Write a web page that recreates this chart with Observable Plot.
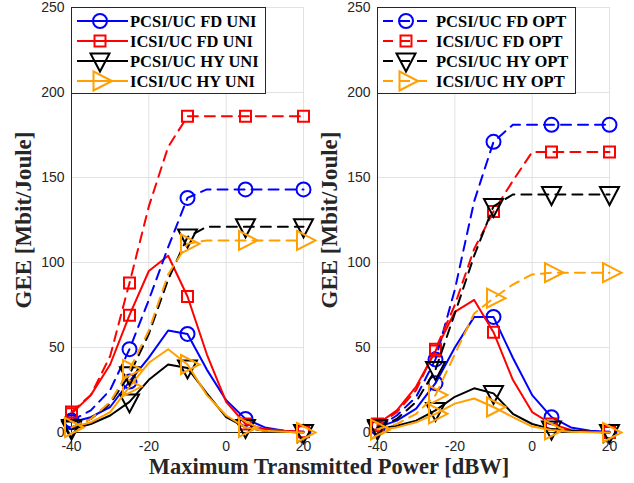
<!DOCTYPE html>
<html><head><meta charset="utf-8">
<script src="https://cdn.jsdelivr.net/npm/d3@7"></script>
<script src="https://cdn.jsdelivr.net/npm/@observablehq/plot@0.6"></script>
<style>
body{margin:0;background:#fff;}
#wrap{position:relative;width:634px;height:483px;overflow:hidden;}
#left{position:absolute;left:0;top:0;}
#right{position:absolute;left:317px;top:0;}
#xlabel{position:absolute;left:0;width:658px;text-align:center;top:458.5px;height:16px;line-height:16px;font-size:22.5px;font-weight:bold;font-family:"Liberation Serif",serif;color:#262626;white-space:nowrap;}
</style></head>
<body><div id="wrap"><div id="left"></div><div id="right"></div><div id="xlabel">Maximum Transmitted Power [dBW]</div></div>
<script>
// ---- data ----
const xValues = [-40, -35, -30, -25, -20, -15, -10, -5, 0, 5, 10, 15, 20];
const markerX = [-40, -25, -10, 5, 20];
const xTicks = [-40, -20, 0, 20];
const yTicks = [0, 50, 100, 150, 200, 250];
const yLabel = "GEE [Mbit/Joule]";

const leftNames = ["PCSI/UC FD UNI", "ICSI/UC FD UNI", "PCSI/UC HY UNI", "ICSI/UC HY UNI"];
const rightNames = ["PCSI/UC FD OPT", "ICSI/UC FD OPT", "PCSI/UC HY OPT", "ICSI/UC HY OPT"];

// left panel, solid lines
const leftPcsiFdSolid = [6, 9, 15, 30, 44, 60, 58, 37, 19, 8, 3, 1, 0.5];
const leftIcsiFdSolid = [11, 22, 40, 69, 95, 104, 80, 46, 18, 5, 2, 1, 0.5];
const leftPcsiHySolid = [2, 5, 10, 18, 31, 40, 38, 23, 9, 3, 1, 0.5, 0];
const leftIcsiHySolid = [3, 6, 12, 27, 41, 49, 40, 22, 10, 3, 1, 0.5, 0];
// left panel, dashed lines
const leftPcsiFdDashed = [7, 13, 25, 49, 78, 109, 138, 143, 143, 143, 143, 143, 143];
const leftIcsiFdDashed = [12, 22, 45, 88, 133, 168, 186, 186, 186, 186, 186, 186, 186];
const leftPcsiHyDashed = [3, 8, 17, 34, 58, 90, 115, 121, 121, 121, 121, 121, 121];
const leftIcsiHyDashed = [3, 8, 18, 37, 60, 93, 111, 113, 113, 113, 113, 113, 113];
// right panel, solid lines
const rightPcsiFdSolid = [3, 7, 14, 29, 50, 68, 68, 44, 22, 9, 3, 1, 0.5];
const rightIcsiFdSolid = [5, 13, 27, 48, 71, 78, 59, 31, 12, 5, 1.5, 0.5, 0];
const rightPcsiHySolid = [2, 4, 7, 13, 21, 26, 23, 11, 5, 2, 1, 0.5, 0];
const rightIcsiHySolid = [1.5, 3, 6, 11, 17, 20, 15, 9, 3.5, 1.5, 0.5, 0.2, 0];
// right panel, dashed lines
const rightPcsiFdDashed = [3, 10, 21, 43, 84, 136, 171, 181, 181, 181, 181, 181, 181];
const rightIcsiFdDashed = [4, 12, 25, 49, 75, 108, 130, 148, 165, 165, 165, 165, 165];
const rightPcsiHyDashed = [3, 8, 18, 37, 70, 104, 133, 140, 140, 140, 140, 140, 140];
const rightIcsiHyDashed = [2, 5, 11, 22, 46, 70, 79, 87, 93, 94, 94, 94, 94];

// ---- styles ----
const colors = ["#0000ff", "#ff0000", "#000000", "#ffa000"];
const sym = {
  circle: {draw(c){ c.moveTo(7, 0); c.arc(0, 0, 7, 0, 2 * Math.PI); c.closePath(); }},
  square: {draw(c){ c.rect(-5.5, -5.5, 11, 11); }},
  down:   {draw(c){ c.moveTo(-9.5, -7.5); c.lineTo(9.5, -7.5); c.lineTo(0, 10.5); c.closePath(); }},
  right:  {draw(c){ c.moveTo(-6.5, -9.5); c.lineTo(12, 0); c.lineTo(-6.5, 9.5); c.closePath(); }}
};
const symbols = [sym.circle, sym.square, sym.down, sym.right];
const DASH = "10,7";

function rows(values) {
  return xValues.map((x, i) => ({x, y: values[i]}));
}

function panel(el, solid, dashed, names, legendDashed, marginLeft, marginRight) {
  const marks = [
    Plot.gridX(xTicks, {stroke: "#e2e2e2", strokeOpacity: 1}),
    Plot.gridY(yTicks, {stroke: "#e2e2e2", strokeOpacity: 1}),
    Plot.ruleX([-40], {stroke: "#262626", strokeWidth: 1}),
    Plot.ruleY([0], {stroke: "#262626", strokeWidth: 1}),
    Plot.axisX(xTicks, {tickSize: 0, tickPadding: 9, tickFormat: d => String(d), label: null, fill: "#262626"}),
    Plot.axisY(yTicks, {tickSize: 0, tickPadding: 7, tickFormat: d => String(d), label: null, fill: "#262626"}),
    Plot.text([yLabel], {text: d => d, frameAnchor: "left", rotate: -90, dx: -48, textAnchor: "middle",
      fontFamily: "Liberation Serif", fontWeight: "bold", fontSize: 23, fill: "#262626"})
  ];
  const addSeries = (vals, k, dash) => {
    const data = rows(vals);
    marks.push(Plot.line(data, {x: "x", y: "y", stroke: colors[k], strokeWidth: 2, strokeDasharray: dash, strokeLinejoin: "round"}));
    marks.push(Plot.dot(data.filter(d => markerX.includes(d.x)), {x: "x", y: "y", symbol: symbols[k], r: 7, stroke: colors[k], strokeWidth: 2, fill: "none"}));
  };
  solid.forEach((v, k) => addSeries(v, k, null));
  dashed.forEach((v, k) => addSeries(v, k, DASH));

  const svg = Plot.plot({
    width: 317, height: 455,
    marginLeft, marginRight, marginTop: 7, marginBottom: 23,
    x: {domain: [-40, 20]},
    y: {domain: [0, 250]},
    style: {fontFamily: "Liberation Sans, Arial, sans-serif", fontSize: "14px", color: "#262626", background: "white", overflow: "visible"},
    marks
  });
  el.appendChild(svg);

  // legend box
  const g = d3.select(svg).append("g").attr("text-anchor", "start");
  const bx = marginLeft + 0.5, by = 7.5;
  const bw = legendDashed ? 198 : 194;
  g.append("rect").attr("x", bx).attr("y", by).attr("width", bw).attr("height", 86)
    .attr("fill", "white").attr("stroke", "#262626").attr("stroke-width", 1);
  names.forEach((name, k) => {
    const cy = 21 + 20 * k;
    g.append("line").attr("x1", marginLeft + 6).attr("x2", marginLeft + 57).attr("y1", cy).attr("y2", cy)
      .attr("stroke", colors[k]).attr("stroke-width", 2).attr("stroke-dasharray", legendDashed ? DASH : null);
    g.append("path").attr("d", d3.symbol().type(symbols[k])()).attr("transform", `translate(${marginLeft + 29},${cy})`)
      .attr("fill", "none").attr("stroke", colors[k]).attr("stroke-width", 2);
    g.append("text").attr("x", marginLeft + 59).attr("y", cy + 6).attr("text-anchor", "start").text(name)
      .attr("font-family", "Liberation Serif").attr("font-weight", "bold").attr("font-size", 16.5).attr("fill", "#000");
  });
}

panel(document.getElementById("left"),
  [leftPcsiFdSolid, leftIcsiFdSolid, leftPcsiHySolid, leftIcsiHySolid],
  [leftPcsiFdDashed, leftIcsiFdDashed, leftPcsiHyDashed, leftIcsiHyDashed],
  leftNames, false, 71, 14);
panel(document.getElementById("right"),
  [rightPcsiFdSolid, rightIcsiFdSolid, rightPcsiHySolid, rightIcsiHySolid],
  [rightPcsiFdDashed, rightIcsiFdDashed, rightPcsiHyDashed, rightIcsiHyDashed],
  rightNames, true, 60, 25);
</script>
</body></html>
